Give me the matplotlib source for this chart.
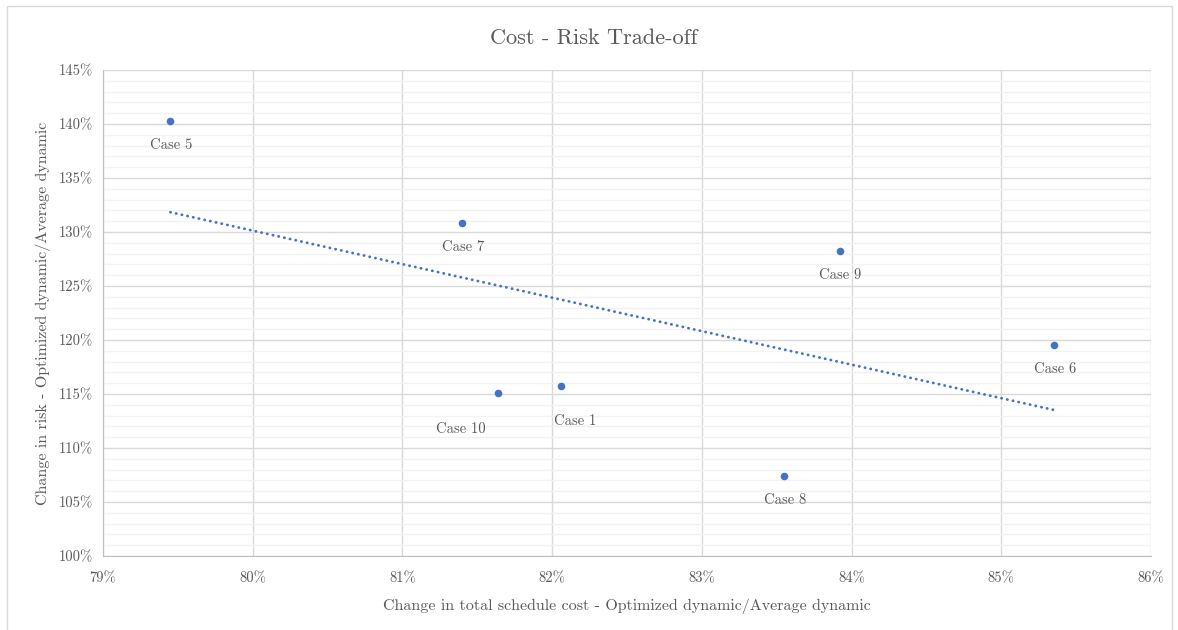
import numpy as np
import matplotlib
matplotlib.use("Agg")
import matplotlib.pyplot as plt
from matplotlib.ticker import MultipleLocator, FuncFormatter
from matplotlib.patches import Rectangle

plt.rcParams['font.family'] = ['cmr10', 'DejaVu Serif']
plt.rcParams['axes.unicode_minus'] = False

# cost change vs risk change per case (percent)
cases = ['Case 1', 'Case 5', 'Case 6', 'Case 7', 'Case 8', 'Case 9', 'Case 10']
cost_change = [82.06, 79.45, 85.35, 81.40, 83.55, 83.92, 81.64]
risk_change = [115.7, 140.3, 119.5, 130.8, 107.4, 128.2, 115.1]
# where each label sits relative to its point, in pixels
label_offsets = {'Case 10': (-37, -36), 'Case 1': (14, -35)}

text_col = '#595959'
blue = '#4472C4'

fig = plt.figure(figsize=(11.78, 6.30), dpi=100)
fig.patches.append(Rectangle((7 / 1178, -0.05), 1165 / 1178, 1.05 - 6 / 630,
                             transform=fig.transFigure, fill=False,
                             edgecolor='#d9d9d9', linewidth=1))
ax = fig.add_axes([103 / 1178, 1 - 556 / 630, 1048 / 1178, 486 / 630])

ax.scatter(cost_change, risk_change, s=30, color=blue, zorder=3, linewidths=0)

# linear trendline across the data range
k, b = np.polyfit(cost_change, risk_change, 1)
xs = np.array([min(cost_change), max(cost_change)])
ax.plot(xs, k * xs + b, color=blue, lw=2.0, linestyle=(0, (0.1, 2.0)),
        dash_capstyle='round', zorder=2)

for name, x, y in zip(cases, cost_change, risk_change):
    dx, dy = label_offsets.get(name, (1, -24))
    ax.annotate(name, (x, y), xytext=(dx, dy), textcoords='offset pixels',
                ha='center', va='center', fontsize=10.5, color=text_col)

ax.set_xlim(79, 86)
ax.set_ylim(100, 145)
ax.xaxis.set_major_locator(MultipleLocator(1))
ax.yaxis.set_major_locator(MultipleLocator(5))
ax.yaxis.set_minor_locator(MultipleLocator(1))
pct = FuncFormatter(lambda v, p: f'{v:.0f}%')
ax.xaxis.set_major_formatter(pct)
ax.yaxis.set_major_formatter(pct)

ax.grid(True, which='major', color='#d9d9d9', lw=1)
ax.grid(True, which='minor', axis='y', color='#f2f2f2', lw=1)
ax.set_axisbelow(True)
ax.tick_params(which='both', length=0, colors=text_col, labelsize=10.5)
ax.tick_params(axis='x', pad=11)
ax.tick_params(axis='y', pad=7)
for side in ['top', 'right']:
    ax.spines[side].set_visible(False)
for side in ['left', 'bottom']:
    ax.spines[side].set_color('#bfbfbf')

ax.set_xlabel('Change in total schedule cost - Optimized dynamic/Average dynamic',
              fontsize=11.5, color=text_col, labelpad=10)
ax.set_ylabel('Change in risk - Optimized dynamic/Average dynamic',
              fontsize=11.5, color=text_col, labelpad=6)
fig.text(594 / 1178, 1 - 38 / 630, 'Cost - Risk Trade-off', ha='center',
         va='center', fontsize=16, color=text_col)

fig.savefig('out.png', dpi=100, facecolor='white')
